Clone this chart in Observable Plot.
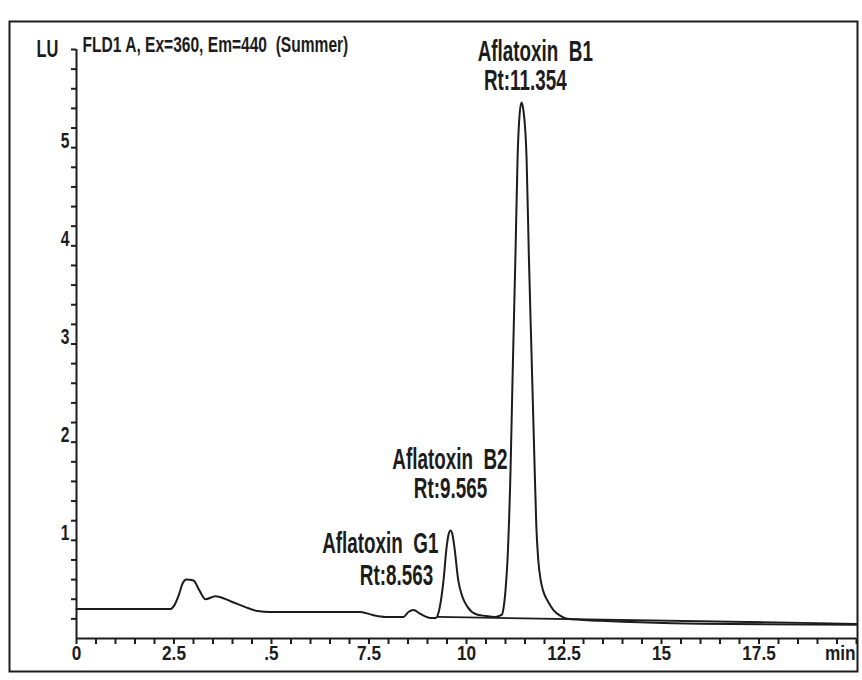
<!DOCTYPE html>
<html>
<head>
<meta charset="utf-8">
<script src="https://cdn.jsdelivr.net/npm/d3@7"></script>
<script src="https://cdn.jsdelivr.net/npm/@observablehq/plot@0.6"></script>
<style>
  html, body { margin: 0; padding: 0; background: #fff; }
  #chart svg { display: block; }
</style>
</head>
<body>
<div id="chart"></div>
<script>
// ---- data ----
const title = "FLD1 A, Ex=360, Em=440  (Summer)";
const yUnit = "LU";
const xUnit = "min";

// retention time (min) and fluorescence signal (LU)
const timeMin = [0, 2.41, 2.51, 2.62, 2.72, 2.82, 3.00, 3.15, 3.31, 3.56, 3.95, 4.33, 4.64, 4.97,
  7.28, 7.59, 7.92, 8.38, 8.51, 8.64, 8.82, 9.08, 9.21, 9.28, 9.36, 9.41, 9.49, 9.54, 9.59,
  9.64, 9.69, 9.79, 9.90, 10.03, 10.23, 10.49, 10.74, 10.90, 10.95, 11.00, 11.05, 11.13,
  11.18, 11.26, 11.31, 11.36, 11.41, 11.46, 11.54, 11.60, 11.67, 11.74, 11.79, 11.84, 11.90,
  11.97, 12.10, 12.23, 12.41, 12.59, 13.44, 16.0, 20.0];
const signalLU = [0.30, 0.30, 0.34, 0.44, 0.56, 0.60, 0.59, 0.49, 0.40, 0.43, 0.38, 0.32, 0.28, 0.27,
  0.27, 0.24, 0.22, 0.22, 0.27, 0.29, 0.25, 0.21, 0.21, 0.26, 0.43, 0.59, 0.93, 1.06, 1.10,
  1.06, 0.93, 0.59, 0.42, 0.32, 0.25, 0.23, 0.22, 0.24, 0.31, 0.49, 0.79, 1.73,
  2.64, 3.99, 4.90, 5.33, 5.46, 5.38, 4.90, 3.88, 2.86, 1.84, 1.15, 0.80, 0.60,
  0.48, 0.37, 0.29, 0.23, 0.20, 0.18, 0.15, 0.14];

// integration baseline drawn under the peaks
const baseTime = [9.26, 20.0];
const baseLU = [0.22, 0.15];

// peaks
const peakNames = ["Aflatoxin  G1", "Aflatoxin  B2", "Aflatoxin  B1"];
const peakRt = [8.563, 9.565, 11.354];
const peakHeight = [0.29, 1.10, 5.46];

// axes
const xTickValues = [0, 2.5, 5, 7.5, 10, 12.5, 15, 17.5];
const xTickLabels = ["0", "2.5", ".5", "7.5", "10", "12.5", "15", "17.5"];
const yTickValues = [1, 2, 3, 4, 5];
const yTickLabels = ["1", "2", "3", "4", "5"];

// ---- build ----
const signal = timeMin.map((t, i) => ({t, v: signalLU[i]}));
const baseline = baseTime.map((t, i) => ({t, v: baseLU[i]}));
const peaks = peakNames.map((name, i) => ({name, rt: peakRt[i], h: peakHeight[i], rtLabel: "Rt:" + peakRt[i].toFixed(3)}));
const xTicks = xTickValues.map((v, i) => ({v, label: xTickLabels[i]}));
const yTicks = yTickValues.map((v, i) => ({v, label: yTickLabels[i]}));
const xMinor = d3.range(0, 40.5, 1).map(d => d / 2);
const yMinor = d3.range(1, 31, 1).map(d => d / 5);

const FONT = "'Liberation Sans', Arial, sans-serif";
const INK = "#1c1c1c";
const txt = {fontFamily: FONT, fontWeight: "bold", fill: INK};

function peakText(i, field, opts) {
  return Plot.text([peaks[i]], {x: "rt", y: "h", text: field, ...txt, fontSize: 23,
    lineAnchor: "bottom", ...opts});
}

const chart = Plot.plot({
  width: 862,
  height: 680,
  marginLeft: 76,
  marginRight: 6,
  marginTop: 49,
  marginBottom: 42,
  x: {domain: [0, 20], axis: null},
  y: {domain: [0, 6], axis: null},
  style: {background: "#fff", fontFamily: FONT},
  marks: [
    Plot.frame({stroke: INK, strokeWidth: 2, insetLeft: -67, insetTop: -28, insetRight: -1, insetBottom: -33}),
    // axis lines
    Plot.ruleY([0], {stroke: INK, strokeWidth: 2}),
    Plot.ruleX([0], {stroke: INK, strokeWidth: 2}),
    // x ticks (below axis)
    Plot.ruleX(xMinor, {x: d => d, y1: 0, y2: 0, insetTop: 6, insetBottom: 0, stroke: INK, strokeWidth: 2}),
    // y ticks (left of axis)
    Plot.ruleY(yMinor, {y: d => d, x1: 0, x2: 0, insetLeft: -5, insetRight: 0, stroke: INK, strokeWidth: 2}),
    // tick labels
    Plot.text(xTicks, {x: "v", y: 0, text: "label", dy: 21, lineAnchor: "middle", ...txt, fontSize: 21}),
    Plot.text([xUnit], {x: 20, y: 0, text: d => d, dy: 21, dx: -1, textAnchor: "end", lineAnchor: "middle", ...txt, fontSize: 21}),
    Plot.text(yTicks, {x: 0, y: "v", text: "label", dx: -7, textAnchor: "end", lineAnchor: "middle", ...txt, fontSize: 19}),
    Plot.text([yUnit], {x: 0, y: 6, text: d => d, dx: -29, dy: 7, lineAnchor: "middle", ...txt, fontSize: 20}),
    Plot.text([title], {x: 0, y: 6, text: d => d, dx: 6, dy: 2, textAnchor: "start", lineAnchor: "bottom", ...txt, fontSize: 19}),
    // chromatogram
    Plot.line(baseline, {x: "t", y: "v", stroke: INK, strokeWidth: 1.8}),
    Plot.line(signal, {x: "t", y: "v", curve: "monotone-x", stroke: INK, strokeWidth: 2}),
    // peak annotations
    peakText(2, "name", {dx: 16, dy: -42}),
    peakText(2, "rtLabel", {dx: 6, dy: -13}),
    peakText(1, "name", {dx: 58, dy: -62, textAnchor: "end"}),
    peakText(1, "rtLabel", {dx: 1, dy: -33}),
    peakText(0, "name", {dx: 28, dy: -57, textAnchor: "end"}),
    peakText(0, "rtLabel", {dx: -14, dy: -25})
  ]
});

document.getElementById("chart").appendChild(chart);

// narrow, vertically stretched lettering, as in the scanned print
const peakStrings = new Set(peaks.flatMap(p => [p.name, p.rtLabel]));
const yStrings = new Set([...yTickLabels, yUnit]);
chart.querySelectorAll("text").forEach(el => {
  const s = el.textContent;
  const sy = peakStrings.has(s) ? 1.25 : s === title ? 1.12 : yStrings.has(s) ? 1.15 : 1.0;
  const t = el.getAttribute("transform") || "";
  const x = el.getAttribute("x"), y = el.getAttribute("y");
  let pre = "";
  if (x != null || y != null) {
    pre = `translate(${+x || 0},${+y || 0}) `;
    el.removeAttribute("x"); el.removeAttribute("y");
  }
  el.setAttribute("transform", `${t} ${pre}scale(0.82,${sy})`.trim());
});
</script>
</body>
</html>
